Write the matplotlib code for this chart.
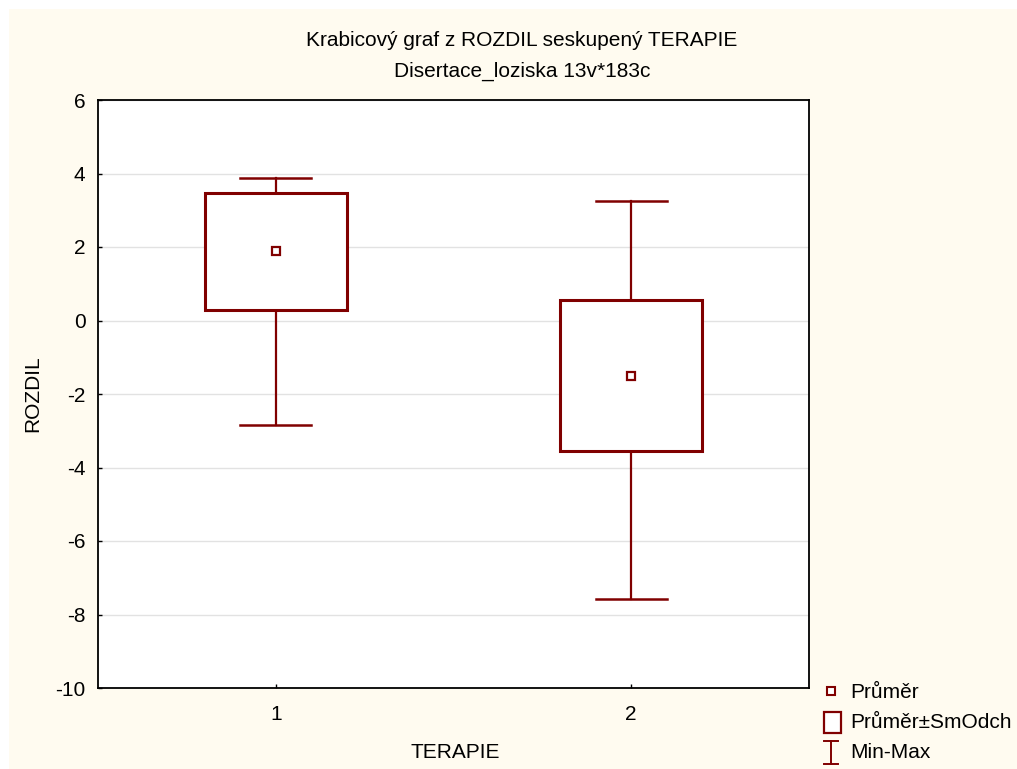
import matplotlib
matplotlib.use("Agg")
import matplotlib.pyplot as plt
from matplotlib.patches import Rectangle
from matplotlib.lines import Line2D

plt.rcParams['font.family'] = ['Liberation Sans', 'DejaVu Sans']
plt.rcParams['axes.unicode_minus'] = False

# Data
groups = ['1', '2']
positions = [1, 2]
means = [1.88, -1.50]
sds = [1.59, 2.05]
mins = [-2.85, -7.59]
maxs = [3.87, 3.26]

title1 = "Krabicový graf z ROZDIL seskupený TERAPIE"
title2 = "Disertace_loziska 13v*183c"
xlabel = "TERAPIE"
ylabel = "ROZDIL"
legend_labels = ["Průměr", "Průměr±SmOdch", "Min-Max"]

color = '#800000'
cream = '#FFFBF0'
W, H = 1017, 769
FS = 15

fig = plt.figure(figsize=(W / 100, H / 100), dpi=100, facecolor='white')
fig.patches.append(Rectangle((9 / W, 0), 1 - 9 / W, 1 - 9 / H, transform=fig.transFigure,
                             facecolor=cream, edgecolor='none', zorder=-10))

ax = fig.add_axes([98 / W, 1 - 688 / H, (809 - 98) / W, (688 - 100) / H])
ax.set_facecolor('white')
ax.set_xlim(0.5, 2.5)
ax.set_ylim(-10, 6)
ax.set_yticks(range(-10, 7, 2))
ax.set_xticks(positions)
ax.set_xticklabels(groups)
ax.grid(axis='y', color='#E2E2E2', linewidth=1.0)
ax.set_axisbelow(True)
for s in ax.spines.values():
    s.set_linewidth(1.3)
    s.set_color('black')
ax.tick_params(direction='in', length=3, width=1, labelsize=FS, color='black')
ax.tick_params(axis='y', pad=9)
ax.tick_params(axis='x', pad=12)

box_w = 0.4
cap_w = 0.2
for p, m, sd, lo, hi in zip(positions, means, sds, mins, maxs):
    top = m + sd
    bot = m - sd
    ax.plot([p, p], [top, hi], color=color, lw=1.6, zorder=3)
    ax.plot([p, p], [lo, bot], color=color, lw=1.6, zorder=3)
    ax.plot([p - cap_w / 2, p + cap_w / 2], [hi, hi], color=color, lw=1.8, zorder=3)
    ax.plot([p - cap_w / 2, p + cap_w / 2], [lo, lo], color=color, lw=1.8, zorder=3)
    ax.add_patch(Rectangle((p - box_w / 2, bot), box_w, 2 * sd, facecolor='white',
                           edgecolor=color, lw=2.2, zorder=4))
    ax.plot([p], [m], marker='s', markersize=6, markerfacecolor='white',
            markeredgecolor=color, markeredgewidth=1.6, zorder=5)

ax.set_xlabel(xlabel, fontsize=FS)
ax.set_ylabel(ylabel, fontsize=FS)
ax.xaxis.set_label_coords(0.503, -0.094)
ax.yaxis.set_label_coords(-0.078, 0.5)
fig.text(522 / W, 1 - 40 / H, title1, ha='center', va='center', fontsize=FS)
fig.text(522 / W, 1 - 71 / H, title2, ha='center', va='center', fontsize=FS)

# Legend (manual, outside axes)
def fx(x):
    return x / W

def fy(y):
    return 1 - y / H

fig.add_artist(Line2D([fx(831)], [fy(691)], marker='s', markersize=5.5, markerfacecolor='white',
                      markeredgecolor=color, markeredgewidth=1.5, transform=fig.transFigure))
fig.patches.append(Rectangle((fx(824), fy(733)), fx(841) - fx(824), fy(712) - fy(733),
                             transform=fig.transFigure, facecolor='white', edgecolor=color, lw=1.6))
fig.add_artist(Line2D([fx(831), fx(831)], [fy(741), fy(764)], color=color, lw=1.4, transform=fig.transFigure))
fig.add_artist(Line2D([fx(824), fx(838)], [fy(741), fy(741)], color=color, lw=1.4, transform=fig.transFigure))
fig.add_artist(Line2D([fx(824), fx(838)], [fy(764), fy(764)], color=color, lw=1.4, transform=fig.transFigure))
for lbl, yy in zip(legend_labels, [692, 722, 752]):
    fig.text(fx(850), fy(yy), lbl, ha='left', va='center', fontsize=FS)

fig.savefig('out.png', dpi=100, facecolor=fig.get_facecolor())
